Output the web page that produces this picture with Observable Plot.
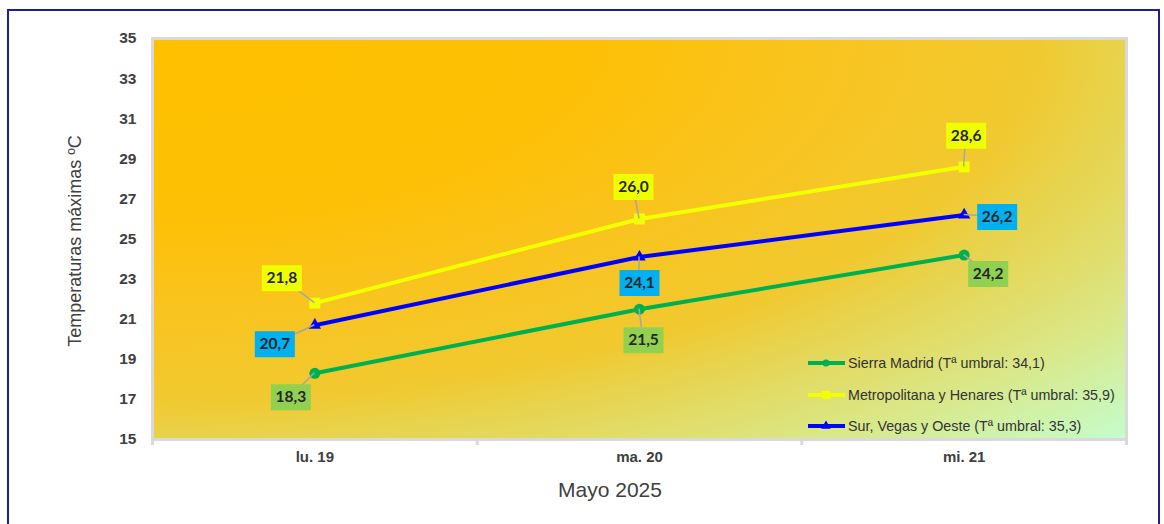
<!DOCTYPE html>
<html>
<head>
<meta charset="utf-8">
<script src="https://cdn.jsdelivr.net/npm/d3@7"></script>
<script src="https://cdn.jsdelivr.net/npm/@observablehq/plot@0.6"></script>
<style>
  body { margin: 0; background: #fff; }
  #wrap { position: relative; width: 1164px; height: 524px; overflow: hidden; font-family: "Liberation Sans", Arial, sans-serif; }
  #border { position: absolute; left: 7px; top: 9px; width: 1153px; height: 600px; border: 2px solid #1e1e9c; box-sizing: border-box; pointer-events: none; }
  #chart { position: absolute; left: 0; top: 0; }
  .ylabel { position: absolute; left: 75px; top: 241px; transform: translate(-50%, -50%) rotate(-90deg); font-size: 18px; color: #404040; white-space: nowrap; }
  .xlabel { position: absolute; left: 610px; top: 490px; transform: translate(-50%, -50%); font-size: 21px; color: #404040; white-space: nowrap; }
  #legend { position: absolute; left: 0; top: 0; }
</style>
</head>
<body>
<div id="wrap">
  <div id="chart"></div>
  <div class="ylabel">Temperaturas  máximas ºC</div>
  <div class="xlabel">Mayo 2025</div>
  <svg id="legend" width="1164" height="524"></svg>
  <div id="border"></div>
</div>
<script>
// ---- data ----
const days = ["lu. 19", "ma. 20", "mi. 21"];
const seriesNames = [
  "Sierra Madrid (Tª umbral: 34,1)",
  "Metropolitana y Henares (Tª umbral: 35,9)",
  "Sur, Vegas y Oeste (Tª umbral: 35,3)"
];
const sierra = [18.3, 21.5, 24.2];
const metro = [21.8, 26.0, 28.6];
const sur = [20.7, 24.1, 26.2];
const yTicks = [15, 17, 19, 21, 23, 25, 27, 29, 31, 33, 35];
const valueText = ["18,3", "21,5", "24,2", "21,8", "26,0", "28,6", "20,7", "24,1", "26,2"];

// ---- styles ----
const lineColors = ["#00B050", "#F2FF00", "#0000FF"];
const labelColors = ["#92D050", "#EEFF00", "#00B0F0"];
const symbols = ["circle", "square", "triangle"];
const symbolR = [5.5, 6.2, 4.6];
const labelOffsets = [
  [[-24, 24], [4, 31], [24, 19]],
  [[-33, -25], [-6, -32], [2, -31]],
  [[-40, 19], [0, 26], [33, 2]]
];

const seriesValues = [sierra, metro, sur];
const rows = [];
seriesValues.forEach((vals, s) => {
  vals.forEach((v, i) => {
    rows.push({s, i, x: i + 0.5, value: v, text: valueText[s * 3 + i],
      dx: labelOffsets[s][i][0], dy: labelOffsets[s][i][1]});
  });
});

const boxSymbol = { draw(ctx) { ctx.rect(-20, -13, 40, 26); } };

function background(index, scales, values, dims) {
  const g = d3.create("svg:g");
  const defs = g.append("defs");
  const grad = defs.append("radialGradient").attr("id", "bgGrad")
    .attr("cx", 0).attr("cy", 0).attr("fx", 0).attr("fy", 0).attr("r", 1.414);
  [[0, "#FFC000"], [0.3, "#FEC004"], [0.45, "#FAC31B"], [0.64, "#F1C930"],
   [0.7, "#E8D24A"], [0.86, "#D9E88A"], [1, "#C4FDCD"]].forEach(([o, c]) =>
    grad.append("stop").attr("offset", o).attr("stop-color", c));
  g.append("rect")
    .attr("x", dims.marginLeft).attr("y", dims.marginTop)
    .attr("width", dims.width - dims.marginLeft - dims.marginRight)
    .attr("height", dims.height - dims.marginTop - dims.marginBottom)
    .attr("fill", "url(#bgGrad)");
  return g.node();
}

function leaders(index, scales) {
  const g = d3.create("svg:g");
  for (const r of rows) {
    const px = scales.x(r.x), py = scales.y(r.value);
    g.append("line").attr("x1", px).attr("y1", py)
      .attr("x2", px + r.dx).attr("y2", py + r.dy)
      .attr("stroke", "#A6A6A6").attr("stroke-width", 1.5);
  }
  return g.node();
}

const tickFont = "'Liberation Sans', Arial, sans-serif";
const marks = [background, Plot.frame({stroke: "#D9D9D9", strokeWidth: 3})];
marks.push(Plot.ruleX([0, 1, 2, 3], {y1: 15, y2: 14.7, stroke: "#D9D9D9", strokeWidth: 3}));
// y tick labels
marks.push(Plot.text(yTicks, {y: d => d, text: d => String(d), frameAnchor: "left", textAnchor: "end",
  dx: -16, fontSize: 15.5, fontWeight: "bold", fontFamily: tickFont, fill: "#404040"}));
// x tick labels
marks.push(Plot.text(days, {x: (d, i) => i + 0.5, text: d => d, frameAnchor: "bottom",
  dy: 22, fontSize: 15, fontWeight: "bold", fontFamily: tickFont, fill: "#404040"}));
seriesValues.forEach((vals, s) => {
  const data = vals.map((v, i) => ({x: i + 0.5, value: v}));
  marks.push(Plot.line(data, {x: "x", y: "value", stroke: lineColors[s], strokeWidth: 4}));
  marks.push(Plot.dot(data, {x: "x", y: "value", symbol: symbols[s], r: symbolR[s], fill: lineColors[s], stroke: "none"}));
});
marks.push(leaders);
rows.forEach(r => {
  marks.push(Plot.dot([r], {x: "x", y: "value", symbol: boxSymbol, r: 10, fill: labelColors[r.s], stroke: "none", dx: r.dx, dy: r.dy}));
  marks.push(Plot.text([r], {x: "x", y: "value", text: "text", dx: r.dx, dy: r.dy, fill: "#262626",
    fontSize: 15.5, fontWeight: "bold", fontFamily: "Lato, 'Liberation Sans', sans-serif"}));
});

const chart = Plot.plot({
  width: 1164,
  height: 524,
  marginLeft: 152,
  marginRight: 38,
  marginTop: 38,
  marginBottom: 85,
  style: {background: "transparent", color: "#404040", fontFamily: tickFont},
  x: {domain: [0, 3], axis: null},
  y: {domain: [15, 35], axis: null},
  marks
});
document.getElementById("chart").appendChild(chart);

// ---- legend (inside plot area, bottom-right) ----
const leg = d3.select("#legend");
const legY = [363, 395, 426];
seriesNames.forEach((name, s) => {
  const y = legY[s];
  leg.append("line").attr("x1", 808).attr("x2", 845).attr("y1", y).attr("y2", y)
    .attr("stroke", lineColors[s]).attr("stroke-width", 4);
  const sym = d3.symbol().type(s === 0 ? d3.symbolCircle : s === 1 ? d3.symbolSquare : d3.symbolTriangle)
    .size(s === 0 ? 40 : s === 1 ? 64 : 40);
  leg.append("path").attr("d", sym()).attr("transform", `translate(826,${y})`).attr("fill", lineColors[s]);
  leg.append("text").attr("x", 848).attr("y", y).attr("dy", "0.35em")
    .attr("font-size", 14.3).attr("fill", "#333333")
    .attr("font-family", tickFont).text(name);
});
</script>
</body>
</html>
